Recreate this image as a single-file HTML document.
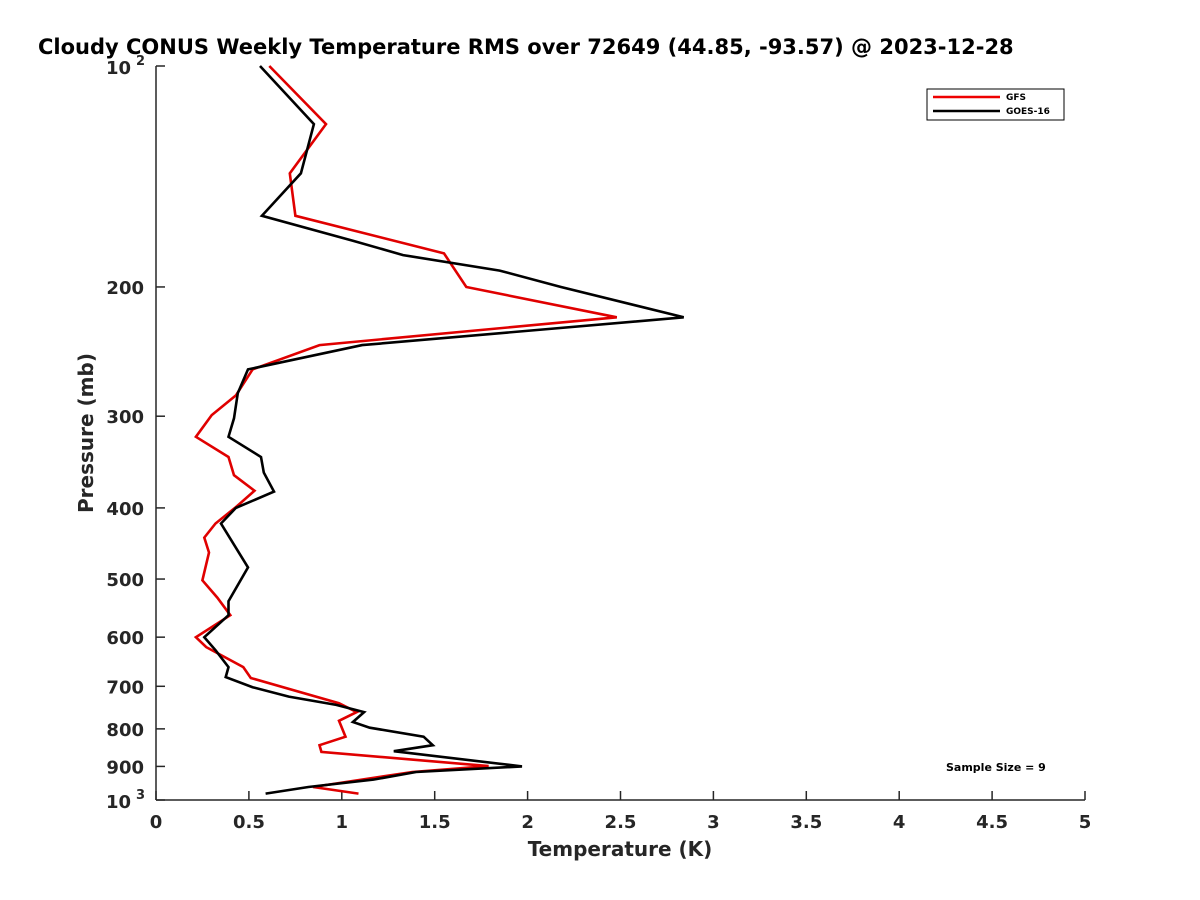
<!DOCTYPE html>
<html><head><meta charset="utf-8"><style>
body{margin:0;background:#fff;}
svg{display:block;font-family:"DejaVu Sans","Liberation Sans",sans-serif;font-weight:bold;}
</style></head><body>
<svg id="chart" width="1200" height="900" viewBox="0 0 1200 900">
<text x="38" y="54" font-size="21" fill="#000">Cloudy CONUS Weekly Temperature RMS over 72649 (44.85, -93.57) @ 2023-12-28</text>
<g id="axes"></g>
<g id="series"></g>
<text x="620" y="856" font-size="20" fill="#262626" text-anchor="middle">Temperature (K)</text>
<text transform="translate(93,433) rotate(-90)" font-size="20" fill="#262626" text-anchor="middle">Pressure (mb)</text>
<g>
<rect x="927" y="89" width="137" height="31" fill="#fff" stroke="#000" stroke-width="1"/>
<line x1="933" y1="97" x2="1000" y2="97" stroke="#e00" stroke-width="2.5"/>
<text x="1006" y="100" font-size="9" fill="#000">GFS</text>
<line x1="933" y1="111" x2="1000" y2="111" stroke="#000" stroke-width="2.5"/>
<text x="1006" y="114" font-size="9" fill="#000">GOES-16</text>
</g>
<text x="946" y="771" font-size="11" fill="#000">Sample Size = 9</text>
</svg>
<script>
const xTicks=[0,0.5,1,1.5,2,2.5,3,3.5,4,4.5,5];
const xTickLabels=["0","0.5","1","1.5","2","2.5","3","3.5","4","4.5","5"];
const yTicks=[200,300,400,500,600,700,800,900];
const gfsPressure=[100,120,140,160,180,200,220,240,259,281,299,320,341,361,379,399,420,439,460,502,530,560,600,619,659,682,738,759,780,820,842,860,899,916,960,980];
const gfsRms=[0.61,0.915,0.72,0.75,1.55,1.67,2.48,0.88,0.52,0.43,0.30,0.215,0.39,0.42,0.53,0.43,0.32,0.26,0.285,0.25,0.33,0.40,0.215,0.27,0.47,0.51,0.985,1.08,0.985,1.02,0.88,0.89,1.79,1.38,0.845,1.09];
const goesPressure=[100,120,140,160,173,181,190,200,220,240,259,279,302,320,341,358,380,400,420,482,536,560,600,625,659,680,702,723,742,759,783,797,820,842,858,900,916,938,960,980];
const goesRms=[0.56,0.85,0.78,0.57,1.06,1.33,1.85,2.18,2.84,1.11,0.495,0.44,0.42,0.39,0.565,0.58,0.635,0.43,0.35,0.495,0.39,0.39,0.26,0.32,0.39,0.375,0.52,0.715,0.97,1.12,1.06,1.15,1.44,1.49,1.28,1.97,1.40,1.17,0.82,0.59];
const NS="http://www.w3.org/2000/svg";
const X0=156,X1=1085,Y0=66,Y1=800;
function xs(v){return X0+(v-0)/(5-0)*(X1-X0);}
function ys(p){return Y0+Math.log10(p/100)*(Y1-Y0);}
const axes=document.getElementById('axes');
function mk(tag,attrs,parent){const e=document.createElementNS(NS,tag);for(const k in attrs)e.setAttribute(k,attrs[k]);parent.appendChild(e);return e;}
const xl=mk('line',{x1:X0,y1:Y1,x2:X1,y2:Y1,stroke:'#262626','stroke-width':1.5},axes);


const yl=mk('line',{x1:X0,y1:Y0,x2:X0,y2:Y1,stroke:'#262626','stroke-width':1.5},axes);


xTicks.forEach((v,i)=>{
 const t=mk('line',{x1:xs(v),y1:Y1,x2:xs(v),y2:Y1-9,stroke:'#262626','stroke-width':1.5},axes);
 
 
 const l=mk('text',{x:xs(v),y:Y1+28,'font-size':18,fill:'#262626','text-anchor':'middle'},axes);
 l.textContent=xTickLabels[i];
 
 
});
const allY=[100].concat(yTicks).concat([1000]);
allY.forEach(p=>{
 const t=mk('line',{x1:X0,y1:ys(p),x2:X0+9,y2:ys(p),stroke:'#262626','stroke-width':1.5},axes);
 
 
});
yTicks.forEach(p=>{
 const l=mk('text',{x:X0-12,y:ys(p)+7,'font-size':18,fill:'#262626','text-anchor':'end'},axes);
 l.textContent=String(p);
 
 
});
[[100,'2'],[1000,'3']].forEach(([p,e])=>{
 const l=mk('text',{x:X0-50,y:ys(p)+8,'font-size':18,fill:'#262626'},axes);
 l.textContent='10';
 
 
 const s=mk('text',{x:X0-20,y:ys(p)-1,'font-size':13,fill:'#262626'},axes);
 s.textContent=e;
 
 
});
const sg=document.getElementById('series');
function drawLine(pr,vals,color,name){
 const pts=pr.map((p,i)=>xs(vals[i]).toFixed(1)+','+ys(p).toFixed(1)).join(' ');
 const pl=mk('polyline',{points:pts,fill:'none',stroke:color,'stroke-width':2.6,'stroke-linejoin':'miter'},sg);
 
 
}
drawLine(gfsPressure,gfsRms,'#e00000','gfs-line');
drawLine(goesPressure,goesRms,'#000000','goes16-line');
</script>
</body></html>
